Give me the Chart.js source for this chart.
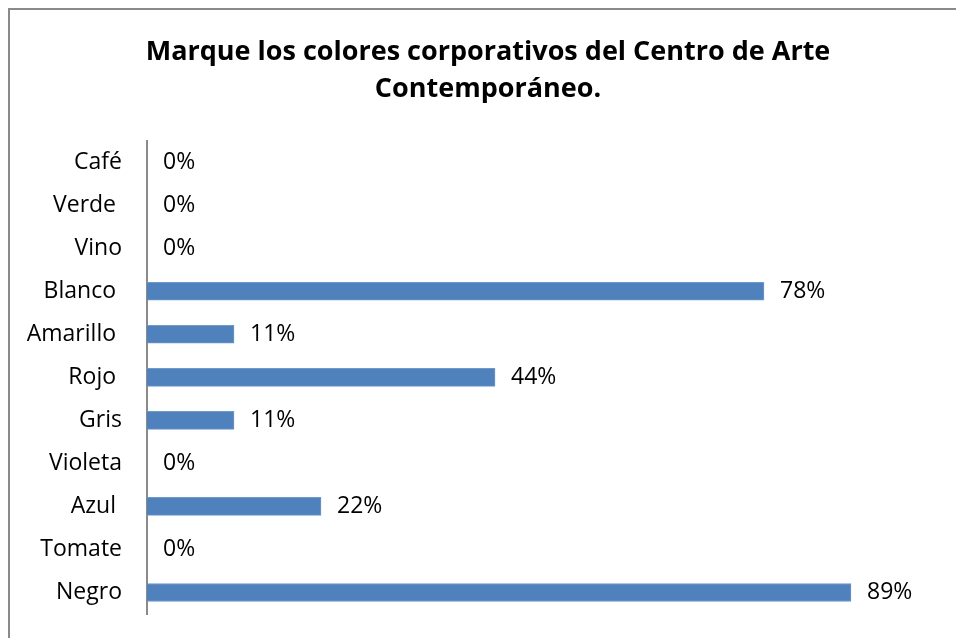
<!DOCTYPE html>
<html>
<head>
<meta charset="utf-8">
<script src="https://cdn.jsdelivr.net/npm/chart.js@4"></script>
<style>
  body { margin: 0; background: #fff; overflow: hidden; }
  #marco { position: absolute; left: 8px; top: 8px; width: 2000px; height: 2000px;
           border-left: 2px solid #8a8a8a; border-top: 2px solid #8a8a8a; }
  #caja { position: absolute; left: 0; top: 0; width: 976px; height: 638px; }
</style>
</head>
<body>
<div id="marco"></div>
<div id="caja"><canvas id="graphique"></canvas></div>
<script>
// categorias de arriba hacia abajo (algunas llevan un espacio al final, como en el original)
const categorias = ['Café', 'Verde ', 'Vino', 'Blanco ', 'Amarillo ', 'Rojo ', 'Gris', 'Violeta', 'Azul ', 'Tomate', 'Negro'];
const porcentajes = [0, 0, 0, 78, 11, 44, 11, 0, 22, 0, 89];
const titulo = ['Marque los colores corporativos del Centro de Arte', 'Contemporáneo.'];

const fuente = "'Open Sans', 'Liberation Sans', sans-serif";

// etiquetas con el valor al final de cada barra
const etiquetas = {
    id: 'etiquetas',
    afterLayout(chart) {
        // centrar el titulo sobre todo el marco y no solo sobre el area del grafico
        if (chart.titleBlock) chart.titleBlock.left = 38;
    },
    afterDatasetsDraw(chart) {
        let ctx = chart.ctx;
        let meta = chart.getDatasetMeta(0);
        ctx.save();
        ctx.font = '23px ' + fuente;
        ctx.fillStyle = '#000';
        ctx.textAlign = 'left';
        ctx.textBaseline = 'middle';
        for (let i = 0; i < meta.data.length; i++) {
            let bar = meta.data[i];
            ctx.fillText(porcentajes[i] + '%', bar.x + 16, bar.y);
        }
        ctx.restore();
    }
};

let ctx = document.getElementById('graphique').getContext('2d');
let myChart = new Chart(ctx, {
    type: 'bar',
    data: {
        labels: categorias,
        datasets: [{
            data: porcentajes,
            backgroundColor: '#4F81BD',
            borderColor: '#6f98cb',
            borderWidth: 1,
            barThickness: 18
        }]
    },
    options: {
        indexAxis: 'y',
        responsive: true,
        maintainAspectRatio: false,
        animation: false,
        layout: { padding: { left: 0, right: 38, top: 0, bottom: 24 } },
        plugins: {
            legend: { display: false },
            tooltip: { enabled: false },
            title: {
                display: true,
                text: titulo,
                color: '#000',
                font: { family: fuente, size: 27, weight: 'bold', lineHeight: 1.4 },
                padding: { top: 33, bottom: 32 }
            }
        },
        scales: {
            x: { display: false, min: 0, max: 100 },
            y: {
                afterFit(scale) {
                    scale.width = 147;
                    scale.paddingTop = 0;
                    scale.paddingBottom = 0;
                },
                grid: { display: false, drawTicks: false },
                border: { display: true, color: '#8a8a8a', width: 2 },
                ticks: { color: '#000', padding: 25, font: { family: fuente, size: 23 } }
            }
        }
    },
    plugins: [etiquetas]
});
</script>
</body>
</html>
